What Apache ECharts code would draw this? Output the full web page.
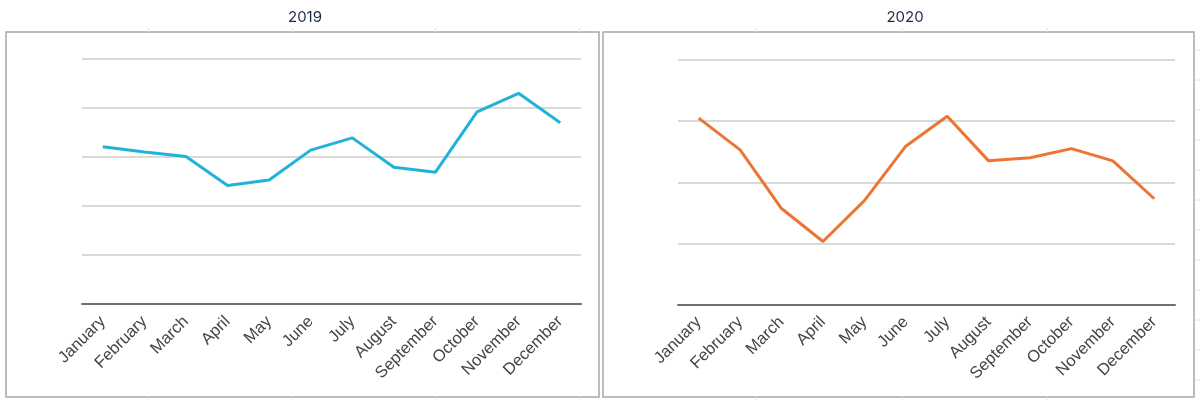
<!DOCTYPE html>
<html>
<head>
<meta charset="utf-8">
<script src="https://cdn.jsdelivr.net/npm/echarts@6/dist/echarts.min.js"></script>
<style>
html,body{margin:0;padding:0;background:#fff;}
#chart{width:1200px;height:400px;}
</style>
</head>
<body>
<div id="chart"></div>
<script>
const months = ["January","February","March","April","May","June","July","August","September","October","November","December"];
const titles = ["2019", "2020"];
const values2019 = [32.1, 31.0, 30.1, 24.2, 25.3, 31.4, 33.9, 27.9, 26.9, 39.2, 43.0, 37.0];
const values2020 = [30.5, 25.3, 15.7, 10.3, 17.0, 25.9, 30.8, 23.5, 24.0, 25.5, 23.5, 17.3];
const yMax2019 = 50;
const yMax2020 = 40;
const yStep = 10;

const chart = echarts.init(document.getElementById('chart'));

const labelFont = {
  color: '#444444', fontSize: 16.5, fontFamily: 'Arial, "Liberation Sans", sans-serif'
};

function xAxis(idx) {
  return {
    type: 'category', gridIndex: idx, data: months, boundaryGap: true,
    axisLine: {show: true, lineStyle: {color: '#6f6f6f', width: 2}},
    axisTick: {show: false},
    axisLabel: Object.assign({rotate: 45, interval: 0, margin: 15}, labelFont),
    splitLine: {show: false}
  };
}
function yAxis(idx, max) {
  return {
    type: 'value', gridIndex: idx, min: 0, max: max, interval: yStep,
    axisLine: {show: false}, axisTick: {show: false}, axisLabel: {show: false},
    splitLine: {show: true, lineStyle: {color: '#d9d9d9', width: 2}}
  };
}

const borderStyle = {stroke: '#a8a8a8', lineWidth: 1.5, fill: 'transparent'};
const faint = {stroke: '#e2e2e2', lineWidth: 1};

const graphics = [
  {type: 'rect', shape: {x: 6, y: 32, width: 593, height: 365}, style: borderStyle, z: 0},
  {type: 'rect', shape: {x: 603, y: 32, width: 591, height: 365}, style: borderStyle, z: 0}
];
[149, 293, 435, 579].forEach(x => {
  graphics.push({type: 'line', shape: {x1: x, y1: 28, x2: x, y2: 32}, style: faint});
  graphics.push({type: 'line', shape: {x1: x, y1: 397, x2: x, y2: 400}, style: faint});
});
[756, 902, 1047].forEach(x => {
  graphics.push({type: 'line', shape: {x1: x, y1: 28, x2: x, y2: 32}, style: faint});
  graphics.push({type: 'line', shape: {x1: x, y1: 397, x2: x, y2: 400}, style: faint});
});
for (let y = 50; y < 397; y += 30) {
  graphics.push({type: 'line', shape: {x1: 1195, y1: y, x2: 1200, y2: y}, style: faint});
}

const titleStyle = {color: '#1d2a4a', fontSize: 15, fontWeight: 'normal', fontFamily: 'Inter, Roboto, sans-serif'};

chart.setOption({
  animation: false,
  backgroundColor: '#ffffff',
  title: [
    {text: titles[0], left: 300, top: 5, textAlign: 'center', textStyle: titleStyle},
    {text: titles[1], left: 900, top: 5, textAlign: 'center', textStyle: titleStyle}
  ],
  grid: [
    {left: 82, right: 619, top: 59, bottom: 96},
    {left: 678, right: 25, top: 60, bottom: 95.5}
  ],
  xAxis: [xAxis(0), xAxis(1)],
  yAxis: [yAxis(0, yMax2019), yAxis(1, yMax2020)],
  graphic: graphics,
  series: [
    {type: 'line', name: titles[0], xAxisIndex: 0, yAxisIndex: 0, data: values2019,
     showSymbol: false, symbol: 'none', lineStyle: {color: '#22b2d8', width: 3}, z: 5},
    {type: 'line', name: titles[1], xAxisIndex: 1, yAxisIndex: 1, data: values2020,
     showSymbol: false, symbol: 'none', lineStyle: {color: '#ec7535', width: 3}, z: 5}
  ]
});
</script>
</body>
</html>
